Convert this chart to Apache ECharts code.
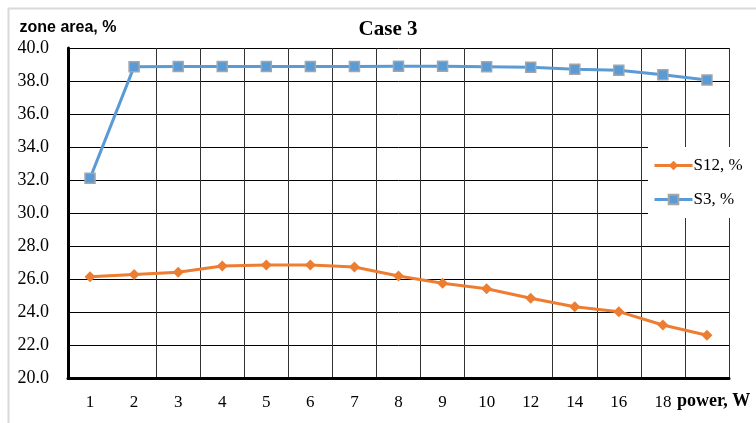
<!DOCTYPE html>
<html><head><meta charset="utf-8">
<script src="https://cdn.jsdelivr.net/npm/echarts@6/dist/echarts.min.js"></script>
<style>html,body{margin:0;padding:0;background:#fff}#c{width:756px;height:423px}</style>
</head><body><div id="c"></div>
<script>
const categories = ['1','2','3','4','5','6','7','8','9','10','12','14','16','18',''];
const s12 = [26.14, 26.28, 26.41, 26.79, 26.85, 26.85, 26.73, 26.18, 25.74, 25.41, 24.83, 24.32, 24.02, 23.21, 22.59];
const s3 = [32.1, 38.87, 38.88, 38.88, 38.88, 38.88, 38.88, 38.89, 38.89, 38.87, 38.83, 38.71, 38.65, 38.38, 38.06];
const yTicks = {min: 20, max: 40, step: 2};
const xTitle = 'power, W';
const serif = '"Liberation Serif", "Times New Roman", serif';

const chart = echarts.init(document.getElementById('c'), null, {renderer: 'canvas'});
chart.setOption({
  animation: false,
  backgroundColor: '#fff',
  title: {
    text: 'Case 3', left: 383, top: 14, textAlign: 'center',
    textStyle: {fontFamily: serif, fontWeight: 'bold', fontSize: 21, color: '#000'}
  },
  graphic: [{
    type: 'rect', left: 6, top: 6, z: -1, silent: true,
    shape: {width: 800, height: 500},
    style: {fill: 'none', stroke: '#d9d9d9', lineWidth: 2}
  }, {
    type: 'text', left: 677, top: 392, z: 10,
    style: {text: xTitle, fill: '#000', font: 'bold 18px ' + serif}
  }],
  legend: {
    orient: 'vertical', left: 648, top: 147,
    backgroundColor: '#fff', padding: [10, 20, 10, 5],
    itemWidth: 38, itemHeight: 12, itemGap: 17,
    lineStyle: {width: 3},
    data: ['S12, %', 'S3, %'],
    textStyle: {fontFamily: serif, fontSize: 17, color: '#000', padding: [0, 0, 0, -4]}
  },
  grid: {left: 68, right: 27, top: 48, bottom: 45},
  xAxis: {
    type: 'category', data: categories, boundaryGap: true,
    axisLine: {lineStyle: {color: '#000', width: 3}},
    axisTick: {show: false},
    axisLabel: {fontFamily: serif, fontSize: 17, color: '#000', margin: 16},
    splitLine: {
      show: true,
      interval: function (i) { return i !== 1 && i !== 10; },
      lineStyle: {color: '#333', width: 1}
    }
  },
  yAxis: {
    type: 'value', min: yTicks.min, max: yTicks.max, interval: yTicks.step,
    name: 'zone area, %', nameLocation: 'end', nameGap: 12,
    nameTextStyle: {fontFamily: '"Liberation Sans", Arial, sans-serif', fontWeight: 'bold', fontSize: 16, color: '#000', align: 'center'},
    axisLine: {show: true, lineStyle: {color: '#000', width: 3}},
    axisTick: {show: false},
    axisLabel: {fontFamily: serif, fontSize: 18, color: '#000', margin: 19, formatter: v => v.toFixed(1)},
    splitLine: {show: true, lineStyle: {color: '#000', width: 1}}
  },
  series: [
    {
      name: 'S12, %', type: 'line', data: s12,
      symbol: 'diamond', symbolSize: 11,
      lineStyle: {color: '#ED7D31', width: 3},
      itemStyle: {color: '#ED7D31'}
    },
    {
      name: 'S3, %', type: 'line', data: s3,
      symbol: 'rect', symbolSize: 10,
      lineStyle: {color: '#5B9BD5', width: 3},
      itemStyle: {color: '#5B9BD5', borderColor: '#A5A5A5', borderWidth: 1.5}
    }
  ]
});
</script></body></html>
